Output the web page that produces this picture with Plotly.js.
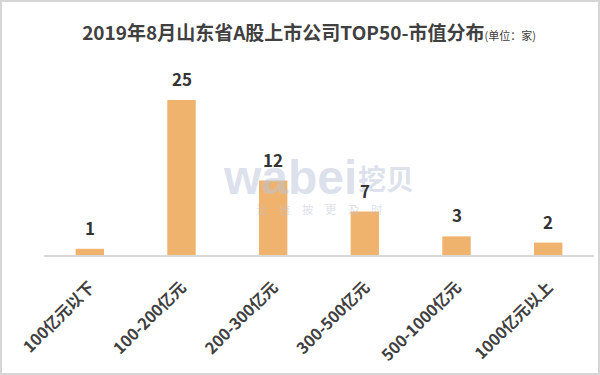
<!DOCTYPE html>
<html><head><meta charset="utf-8">
<script src="https://cdn.plot.ly/plotly-3.0.1.min.js"></script>
<style>
html,body{margin:0;padding:0;background:#fff;}
#wrap{position:relative;width:600px;height:375px;}
#chart{width:600px;height:375px;}
#frame{position:absolute;left:0;top:0;width:600px;height:375px;box-sizing:border-box;border:2px solid #d6d6d6;pointer-events:none;}
</style></head>
<body>
<div id="wrap"><div id="chart"></div><div id="frame"></div></div>
<script>
const categories = ["100亿元以下","100-200亿元","200-300亿元","300-500亿元","500-1000亿元","1000亿元以上"];
const counts = [1, 25, 12, 7, 3, 2];
const titleMain = "2019年8月山东省A股上市公司TOP50-市值分布";
const titleUnit = "(单位：家)";

const font = "'Noto Sans CJK SC', 'Noto Sans', sans-serif";
const trace = {
  type: 'bar',
  x: categories,
  y: counts,
  marker: {color: '#F0B36E'},
  hoverinfo: 'none'
};
const valueLabels = categories.map((c, i) => ({
  x: c, y: counts[i], xref: 'x', yref: 'y',
  text: String(counts[i]), showarrow: false,
  xanchor: 'center', yanchor: 'bottom', yshift: 7,
  font: {family: font, size: 17, color: '#333333', weight: 700}
}));
const wm = 'rgba(185,195,218,0.5)';
const layout = {
  width: 600, height: 375,
  margin: {l: 44, r: 6, t: 85, b: 120},
  paper_bgcolor: '#ffffff', plot_bgcolor: '#ffffff',
  bargap: 0.69,
  showlegend: false,
  title: {
    text: '<b>' + titleMain + '</b><span style="font-size:11px">' + titleUnit + '</span>',
    font: {family: font, size: 19, color: '#404040'},
    x: 0.515, xanchor: 'center', y: 0.912, yanchor: 'middle'
  },
  xaxis: {
    type: 'category',
    tickangle: -45,
    ticklabelstandoff: 15,
    tickfont: {family: font, size: 16, color: '#404040', weight: 700},
    showline: true, linecolor: '#d9d9d9', linewidth: 1.5,
    ticks: '', showgrid: false, zeroline: false, fixedrange: true
  },
  yaxis: {
    range: [0, 27.4],
    visible: false, showgrid: false, zeroline: false, fixedrange: true
  },
  annotations: [
    {text: 'wabei', xref: 'paper', yref: 'paper', x: 0.447, y: 0.455, xanchor: 'center', yanchor: 'middle',
     showarrow: false, font: {family: "'Liberation Sans', Arial, sans-serif", size: 48, color: wm, weight: 700}},
    {text: '挖贝', xref: 'paper', yref: 'paper', x: 0.622, y: 0.455, xanchor: 'center', yanchor: 'middle',
     showarrow: false, font: {family: font, size: 28, color: wm, weight: 700}},
    {text: '让\u2003信\u2003披\u2003更\u2003及\u2003时', xref: 'paper', yref: 'paper', x: 0.5, y: 0.27, xanchor: 'center', yanchor: 'middle',
     showarrow: false, font: {family: font, size: 11.5, color: wm}}
  ].concat(valueLabels)
};
Plotly.newPlot('chart', [trace], layout, {displayModeBar: false, staticPlot: true});
</script>
</body></html>
